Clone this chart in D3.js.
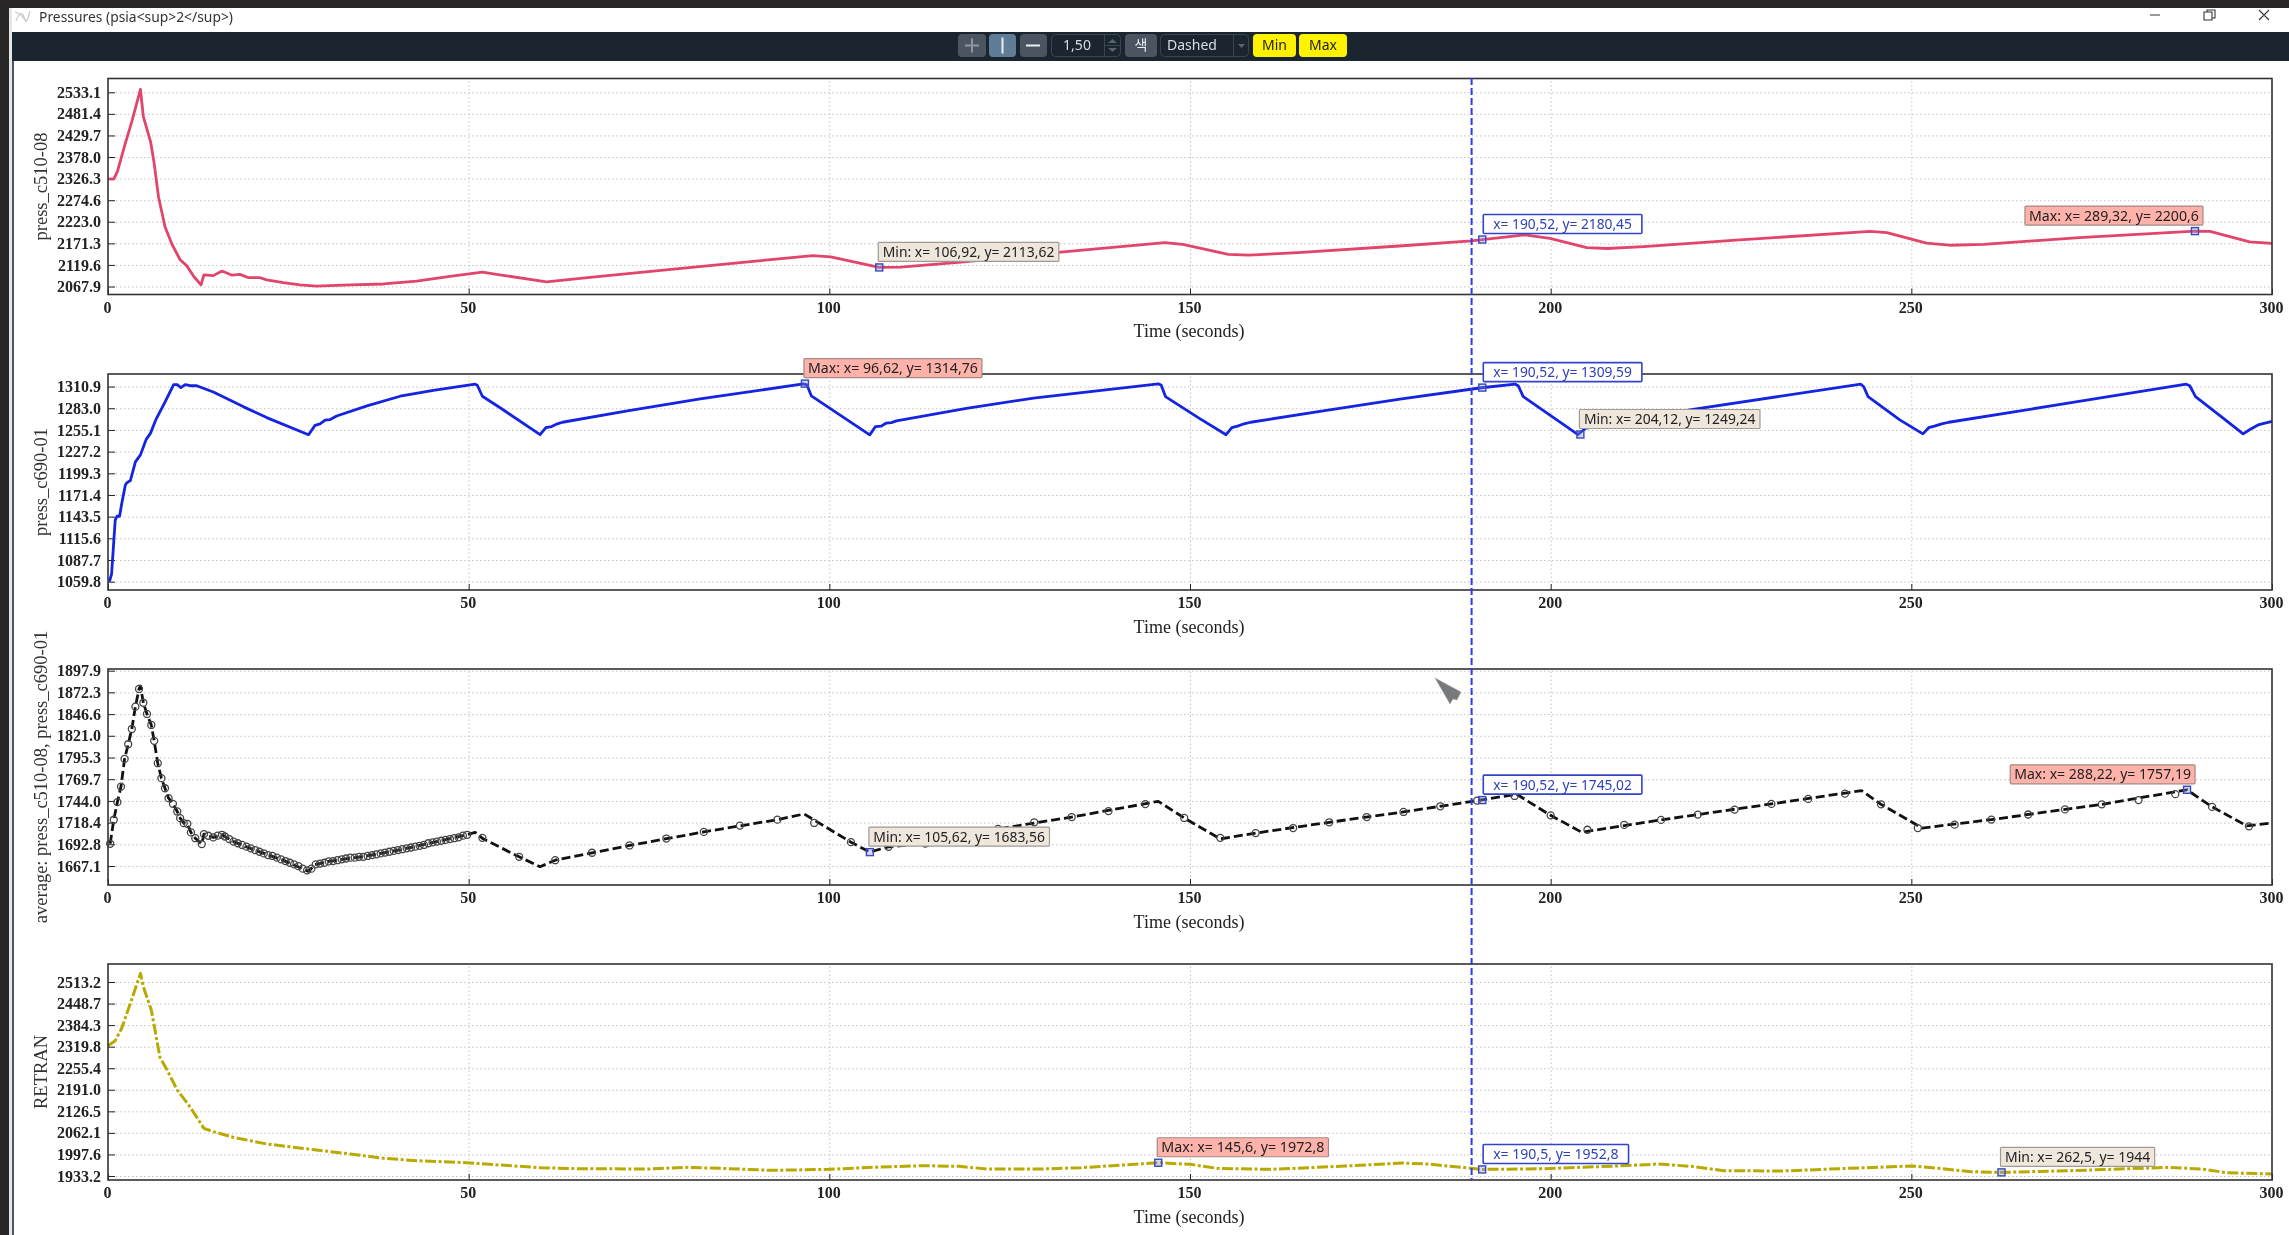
<!DOCTYPE html>
<html>
<head>
<meta charset="utf-8">
<script src="https://cdn.jsdelivr.net/npm/d3@7"></script>
<style>
  html, body { margin: 0; padding: 0; background: #fff; overflow: hidden; }
  svg { filter: blur(0.4px); }
  .tick text { font-family: "Liberation Serif", serif; font-weight: bold; font-size: 16px; fill: #222; }
  .ui { font-family: "Noto Sans", sans-serif; }
</style>
</head>
<body>
<div id="chart_div"></div>
<script>
// x axis is the same on all four plots
const xTicks = [0, 50, 100, 150, 200, 250, 300];
const cursorTime = 189.04;

// press_c510-08
const c510Ticks = [2067.9, 2119.6, 2171.3, 2223.0, 2274.6, 2326.3, 2378.0, 2429.7, 2481.4, 2533.1];
const c510Time = [0, 0.8, 1.3, 2.4, 3.3, 4.5, 4.9, 5.9, 6.4, 7, 7.9, 8.9, 10, 10.9, 11.9, 12.9, 13.3, 14.6, 15.8, 17.2, 18.3, 19.5, 21.1, 22, 24.3, 26.6, 28.9, 33.6, 38.2, 42.8, 47.4, 51.9, 54.3, 60.8, 67.5, 80.9, 97.7, 100.2, 106.9, 109.9, 118.7, 131.3, 146.5, 149, 155.3, 158.2, 165, 179, 189, 196.4, 199.9, 205, 207.8, 212.9, 226.2, 244.3, 246.6, 252.1, 255.3, 260, 273.3, 289.3, 291.4, 296.9, 300];
const c510Values = [2325.6, 2325, 2343, 2411, 2463, 2540, 2475, 2415, 2363, 2283, 2211, 2168, 2132, 2118, 2092, 2072, 2096, 2094, 2105, 2095, 2097, 2089, 2089, 2084, 2077, 2072, 2069, 2072, 2074, 2081, 2092, 2102.5, 2096, 2079, 2091, 2114, 2142, 2139, 2113.6, 2114.5, 2127, 2149, 2173, 2169, 2145, 2143, 2149, 2165, 2177, 2191.7, 2183, 2161, 2159, 2163.6, 2179.7, 2199.8, 2197, 2171.6, 2166.8, 2169, 2185, 2200.6, 2200, 2175, 2171];
const c510Notes = [
  {kind: "min", t: 106.92, v: 2113.62, label: "Min: x= 106,92, y= 2113,62"},
  {kind: "cur", t: 190.52, v: 2180.45, label: "x= 190,52, y= 2180,45"},
  {kind: "max", t: 289.32, v: 2200.6, label: "Max: x= 289,32, y= 2200,6"}
];

// press_c690-01
const c690Ticks = [1059.8, 1087.7, 1115.6, 1143.5, 1171.4, 1199.3, 1227.2, 1255.1, 1283.0, 1310.9];
const c690Time = [0.2, 0.5, 1, 1.25, 1.6, 1.9, 2.4, 2.6, 3.1, 3.8, 4.5, 5.3, 5.9, 6.6, 7.9, 9.1, 9.6, 10.1, 10.7, 11.4, 12.3, 14.6, 18.8, 22, 27.8, 28.7, 29.4, 30.1, 30.8, 31.7, 35.9, 40.5, 45.1, 50.9, 51.2, 51.9, 54.3, 59.9, 60.7, 61.5, 62.3, 63, 72, 82.1, 96.4, 96.9, 97.5, 105.6, 106.4, 107.2, 107.9, 108.6, 109.3, 119, 128.3, 145.6, 146, 146.6, 151.3, 155, 155.8, 156.6, 157.5, 158.4, 168, 179.1, 190.4, 195.1, 195.5, 196.2, 203.8, 204.8, 217.9, 243, 243.4, 244, 248.4, 251.6, 252.4, 253.2, 254.2, 255.2, 270, 288.1, 288.6, 289.4, 293, 296, 297, 298.2, 300];
const c690Values = [1059.8, 1070, 1139, 1144, 1144, 1160, 1184, 1187, 1190, 1214, 1223, 1243, 1251, 1267.6, 1291, 1313.5, 1313.5, 1309.6, 1313.5, 1312, 1312, 1304, 1284.8, 1271, 1249, 1261, 1263, 1267.6, 1268.5, 1273, 1286, 1298.5, 1306, 1314, 1312.6, 1298.5, 1284, 1249, 1258, 1259.5, 1263, 1265, 1279.5, 1295, 1314.3, 1313, 1299, 1248.8, 1259.5, 1260, 1264, 1264.6, 1266.8, 1283, 1296, 1314.3, 1313, 1298, 1270, 1249, 1258, 1260, 1263, 1265, 1279, 1294.8, 1309.4, 1314, 1312, 1298, 1249.2, 1257, 1279, 1314, 1310.7, 1298, 1268, 1250, 1258, 1260, 1263, 1265, 1287, 1314, 1312, 1298, 1272, 1250, 1256, 1262, 1266];
const c690Notes = [
  {kind: "max", t: 96.62, v: 1314.76, label: "Max: x= 96,62, y= 1314,76"},
  {kind: "cur", t: 190.52, v: 1309.59, label: "x= 190,52, y= 1309,59"},
  {kind: "min", t: 204.12, v: 1249.24, label: "Min: x= 204,12, y= 1249,24"}
];

// average of the two, the line has its own open circles
const avgTicks = [1667.1, 1692.8, 1718.4, 1744.0, 1769.7, 1795.3, 1821.0, 1846.6, 1872.3, 1897.9];
const avgTime = [0.3, 0.8, 1.3, 1.8, 2.3, 2.8, 3.3, 3.8, 4.3, 4.5, 4.9, 5.4, 6, 6.4, 6.9, 7.4, 7.9, 8.4, 9, 9.6, 10, 10.5, 11, 11.5, 12.1, 13, 13.3, 13.9, 14.6, 15.8, 17.4, 20.2, 24.3, 27.8, 28.7, 30.6, 35.9, 40.5, 45.1, 49.7, 50.9, 52, 57, 59.9, 62, 72.3, 82.6, 92.8, 96.5, 103, 105.6, 108.2, 113.3, 123.4, 133.6, 145.6, 149.2, 154.2, 159.1, 169.3, 179.6, 189.8, 195.3, 200, 204.3, 215.3, 230.6, 243.1, 245.8, 251.5, 261.1, 276.4, 288.2, 291.7, 296.5, 300];
const avgValues = [1693.4, 1721.8, 1742.6, 1761, 1793.7, 1811, 1829, 1855.4, 1876.3, 1879.8, 1860, 1846.8, 1833.8, 1815, 1788.6, 1770.9, 1759, 1747.3, 1740.6, 1731.6, 1723.7, 1717.8, 1717, 1706.8, 1700, 1693, 1704.8, 1702.9, 1700.9, 1704, 1696, 1686.4, 1673.8, 1660.8, 1668.7, 1672.6, 1679, 1686.4, 1695, 1704, 1706.8, 1699.3, 1678, 1666.3, 1674, 1691.4, 1707.4, 1721.9, 1728.6, 1695.3, 1683.6, 1689.8, 1693.7, 1711, 1725, 1743.5, 1723.9, 1699.2, 1706, 1718.8, 1731, 1744.4, 1751.9, 1727, 1707, 1721.6, 1740.5, 1756.2, 1740, 1712, 1722, 1740, 1757.2, 1737, 1714.6, 1718];
const avgMarkTime = [0.3, 0.8, 1.3, 1.8, 2.3, 2.8, 3.3, 3.8, 4.3, 4.9, 5.4, 6, 6.4, 6.9, 7.4, 7.9, 8.4, 9, 9.6, 10, 10.5, 11, 11.5, 12.1, 13, 13.3, 13.9, 14.6, 15.2, 15.8, 16.2, 16.8, 17.4, 18, 18.6, 19.2, 19.8, 20.4, 21, 21.6, 22.2, 22.8, 23.4, 24, 24.6, 25.2, 25.8, 26.4, 27, 27.6, 28.2, 28.8, 29.4, 30, 30.6, 31.2, 31.8, 32.4, 33, 33.6, 34.2, 34.8, 35.4, 36, 36.6, 37.2, 37.8, 38.4, 39, 39.6, 40.2, 40.8, 41.4, 42, 42.6, 43.2, 43.8, 44.4, 45, 45.6, 46.2, 46.8, 47.4, 48, 48.6, 49.2, 49.8, 51.9, 57, 62, 67.1, 72.3, 77.4, 82.6, 87.6, 92.8, 97.9, 103, 108.2, 113.3, 118.3, 123.4, 128.4, 133.6, 138.7, 143.8, 149.2, 154.2, 159.1, 164.3, 169.3, 174.5, 179.6, 184.7, 189.8, 195, 200, 205.1, 210.2, 215.3, 220.4, 225.5, 230.6, 235.7, 240.8, 245.8, 250.9, 256, 261.1, 266.2, 271.3, 276.4, 281.5, 286.6, 291.7, 296.8];
const avgMarkValues = [1693.4, 1721.8, 1742.6, 1761, 1793.7, 1811, 1829, 1855.4, 1876.3, 1860, 1846.8, 1833.8, 1815, 1788.6, 1770.9, 1759, 1747.3, 1740.6, 1731.6, 1723.7, 1717.8, 1717, 1706.8, 1700, 1693, 1704.8, 1702.9, 1700.9, 1703, 1704, 1702, 1699, 1696, 1694, 1692, 1690, 1688, 1686, 1684, 1682, 1680, 1679, 1677, 1675, 1673, 1671, 1669, 1667, 1664, 1662, 1664, 1669, 1670, 1671, 1672.6, 1673, 1674, 1675, 1676, 1677, 1677, 1678, 1678, 1679, 1680, 1681, 1682, 1683, 1684, 1685, 1686, 1687, 1688, 1689, 1690, 1691, 1692, 1694, 1695, 1696, 1697, 1698, 1699, 1700, 1701, 1703, 1704, 1700.4, 1678, 1674, 1682.8, 1691.4, 1699.6, 1707.4, 1714.9, 1721.9, 1718, 1695.3, 1689.8, 1693.7, 1702, 1711, 1718.8, 1725, 1732, 1740.3, 1723.9, 1700.4, 1706, 1712, 1718.8, 1725, 1731, 1737.7, 1744.4, 1749.9, 1727, 1710, 1715.7, 1721.6, 1727.9, 1733.8, 1740.5, 1746.4, 1752.6, 1740, 1712, 1716, 1722, 1728, 1734, 1740, 1745, 1752, 1737, 1714];
const avgNotes = [
  {kind: "min", t: 105.62, v: 1683.56, label: "Min: x= 105,62, y= 1683,56"},
  {kind: "cur", t: 190.52, v: 1745.02, label: "x= 190,52, y= 1745,02"},
  {kind: "max", t: 288.22, v: 1757.19, label: "Max: x= 288,22, y= 1757,19"}
];

// RETRAN
const retranTicks = [1933.2, 1997.6, 2062.1, 2126.5, 2191.0, 2255.4, 2319.8, 2384.3, 2448.7, 2513.2];
const retranTime = [0, 1, 1.9, 3.1, 4.5, 4.9, 6, 6.6, 7.2, 8.2, 9.6, 11.2, 13.3, 14.6, 17.4, 22, 28.9, 33.6, 38.2, 42.8, 49.7, 54.3, 60, 65, 75, 80, 85, 92, 100, 107, 113, 118, 122, 129.2, 134.9, 145.6, 150, 153.8, 161.2, 171.5, 179.5, 182.9, 190.5, 198.9, 209.2, 214.9, 219.5, 224, 232, 241.2, 250.1, 253.8, 258.3, 262.5, 272, 285.8, 290.3, 293.7, 300];
const retranValues = [2322.9, 2337.8, 2374.7, 2449.4, 2539, 2499, 2429.5, 2359.7, 2288, 2250, 2190, 2145, 2075.7, 2065.7, 2048.8, 2028.9, 2010.9, 1999, 1986, 1979, 1973, 1966, 1958, 1955, 1954, 1959, 1956, 1950, 1953, 1960, 1964, 1962, 1954, 1954, 1958, 1972.8, 1968, 1956, 1953, 1963, 1971.8, 1969, 1952.8, 1955, 1963, 1969, 1962, 1949, 1948, 1956, 1963, 1956, 1946, 1944, 1949, 1959, 1954, 1943, 1939];
const retranNotes = [
  {kind: "max", t: 145.6, v: 1972.8, label: "Max: x= 145,6, y= 1972,8"},
  {kind: "cur", t: 190.5, v: 1952.8, label: "x= 190,5, y= 1952,8"},
  {kind: "min", t: 262.5, v: 1944, label: "Min: x= 262,5, y= 1944"}
];

const svg = d3.select("#chart_div").append("svg")
  .attr("width", 2289)
  .attr("height", 1235)
  .style("display", "block");

const plot_left = 108, plot_right = 2272;
const x = d3.scaleLinear().domain([0, 300]).range([plot_left, plot_right]);

// window frame and toolbar
svg.append("rect").attr("width", 2289).attr("height", 8).attr("fill", "#272525");
svg.append("rect").attr("y", 0).attr("width", 9).attr("height", 1235).attr("fill", "#272525");
svg.append("rect").attr("x", 9).attr("y", 8).attr("width", 3).attr("height", 1227).attr("fill", "#e4e6e8");
svg.append("rect").attr("x", 12).attr("y", 61).attr("width", 2).attr("height", 1174).attr("fill", "#4d5861");
svg.append("rect").attr("x", 12).attr("y", 32).attr("width", 2277).attr("height", 29).attr("fill", "#1b2530");

svg.append("text").attr("class", "ui")
  .attr("x", 39).attr("y", 22)
  .attr("font-size", 14).attr("fill", "#333")
  .attr("textLength", 194).attr("lengthAdjust", "spacingAndGlyphs")
  .text("Pressures (psia<sup>2</sup>)");
svg.append("path").attr("d", "M16 21c3-8 6-10 8-4s3 6 6-6M15 12c4 1 8 4 11 10")
  .attr("fill", "none").attr("stroke", "#c8c8c8").attr("stroke-width", 1.2);

// minimize, restore, close
svg.append("path").attr("d", "M2150 15h10M2204 12h8v8h-8zM2207 12v-2h8v8h-3M2259 10l10 10M2269 10l-10 10")
  .attr("fill", "none").attr("stroke", "#333").attr("stroke-width", 1.1);

function button(bx, bw, fill) {
  svg.append("rect").attr("x", bx).attr("y", 34).attr("width", bw).attr("height", 23)
    .attr("rx", 4).attr("fill", fill);
}
function buttonText(tx, label, fill, anchor) {
  svg.append("text").attr("class", "ui")
    .attr("x", tx).attr("y", 50)
    .attr("text-anchor", anchor || "middle")
    .attr("font-size", 14).attr("fill", fill)
    .style("font-family", '"Noto Sans", "Noto Sans CJK KR", sans-serif')
    .text(label);
}
button(958, 28, "#4a5561");
button(989, 27, "#5f7d97");
button(1020, 27, "#4a5561");
svg.append("path").attr("d", "M965 45.5h14M972 38.5v14").attr("stroke", "#8d96a0").attr("stroke-width", 2);
svg.append("path").attr("d", "M1002.5 37.5v16").attr("stroke", "#e8eef3").attr("stroke-width", 2);
svg.append("path").attr("d", "M1026 45.5h14").attr("stroke", "#e8eef3").attr("stroke-width", 2);

svg.append("rect").attr("x", 1051.5).attr("y", 34.5).attr("width", 69).attr("height", 22).attr("rx", 4)
  .attr("fill", "none").attr("stroke", "#3a4552");
svg.append("path").attr("d", "M1104.5 34.5v22M1104.5 45.5h16").attr("stroke", "#3a4552");
svg.append("path").attr("d", "M1108 43l4.500-4 4.500 4zM1108 48l4.500 4 4.500-4z").attr("fill", "#59636e");
buttonText(1077, "1,50", "#d8dde2");

button(1125, 32, "#4a5561");
buttonText(1141, "색", "#e8eef3");

svg.append("rect").attr("x", 1160.5).attr("y", 34.5).attr("width", 88).attr("height", 22).attr("rx", 4)
  .attr("fill", "none").attr("stroke", "#3a4552");
svg.append("path").attr("d", "M1233.500 34.500v22").attr("stroke", "#3a4552");
svg.append("path").attr("d", "M1238 44h7l-3.500 4z").attr("fill", "#59636e");
buttonText(1167, "Dashed", "#d8dde2", "start");

button(1253, 43, "#fff200");
button(1299, 48, "#fff200");
buttonText(1274.5, "Min", "#222");
buttonText(1323, "Max", "#222");

// one plot, same layout for all of them
function createPlot(cfg) {
  const y = d3.scaleLinear()
    .domain(cfg.domain)
    .range([cfg.top + 216, cfg.top]);
  const bottom = cfg.top + 216;
  const g = svg.append("g");

  // dotted grid
  g.append("g")
    .attr("transform", `translate(0, ${bottom})`)
    .call(d3.axisBottom(x).tickValues(xTicks.slice(1, -1)).tickSize(-216).tickFormat(""))
    .call(s => s.select(".domain").remove())
    .call(s => s.selectAll("line").attr("stroke", "#c4c4c4").attr("stroke-dasharray", "1.500,2.500"));
  g.append("g")
    .attr("transform", `translate(${plot_left}, 0)`)
    .call(d3.axisLeft(y).tickValues(cfg.ticks).tickSize(-(plot_right - plot_left)).tickFormat(""))
    .call(s => s.select(".domain").remove())
    .call(s => s.selectAll("line").attr("stroke", "#c4c4c4").attr("stroke-dasharray", "1.500,2.500"));

  // axes with inward ticks
  g.append("g")
    .attr("transform", `translate(0, ${bottom})`)
    .call(d3.axisBottom(x).tickValues(xTicks).tickSize(-6).tickPadding(7).tickFormat(d3.format("d")))
    .call(s => s.select(".domain").remove())
    .call(s => s.selectAll("line").attr("stroke", "#222"))
    .call(s => s.selectAll("text").attr("dx", -1));
  g.append("g")
    .attr("transform", `translate(${plot_left}, 0)`)
    .call(d3.axisLeft(y).tickValues(cfg.ticks).tickSize(-7).tickPadding(7).tickFormat(d3.format(".1f")))
    .call(s => s.select(".domain").remove())
    .call(s => s.selectAll("line").attr("stroke", "#222"));

  const line = d3.line().x((d, i) => x(cfg.time[i])).y(d => y(d));
  g.append("path")
    .datum(cfg.values)
    .attr("fill", "none")
    .attr("stroke", cfg.color)
    .attr("stroke-width", cfg.width)
    .attr("stroke-linejoin", "round")
    .attr("stroke-dasharray", cfg.dash || null)
    .attr("d", line);

  if (cfg.markTime) {
    g.append("g").selectAll("circle")
      .data(cfg.markValues)
      .join("circle")
      .attr("cx", (d, i) => x(cfg.markTime[i]))
      .attr("cy", d => y(d))
      .attr("r", 3.5)
      .attr("fill", "none")
      .attr("stroke", "#444")
      .attr("stroke-width", 1.3);
  }

  g.append("rect")
    .attr("x", plot_left).attr("y", cfg.top)
    .attr("width", plot_right - plot_left).attr("height", 216)
    .attr("fill", "none").attr("stroke", "#333").attr("stroke-width", 1.6);

  g.append("text")
    .attr("x", (plot_left + plot_right) / 2 - 1)
    .attr("y", bottom + 42.5)
    .attr("text-anchor", "middle")
    .style("font-family", '"Liberation Serif", serif')
    .style("font-size", "18px")
    .attr("fill", "#222")
    .text("Time (seconds)");

  g.append("text")
    .attr("transform", `translate(47, ${bottom - 108}) rotate(-90)`)
    .attr("text-anchor", "middle")
    .style("font-family", '"Liberation Serif", serif')
    .style("font-size", "18.5px")
    .attr("fill", "#333")
    .text(cfg.name);

  return {g, y};
}

const noteStyle = {
  min: {fill: "#efe6dc", stroke: "#a09a94", text: "#222", pad: 4.5, perChar: 6.6},
  max: {fill: "#ffb2aa", stroke: "#a08a88", text: "#222", pad: 4, perChar: 6.8},
  cur: {fill: "#fff", stroke: "#3344cc", text: "#2f3fb8", pad: 10, perChar: 6.6}
};

// the little square on the curve and its text box
function addNotes(plot, notes) {
  const nodes = plot.g.append("g").selectAll("g").data(notes).join("g");
  nodes.each(function (d) {
    const st = noteStyle[d.kind];
    const px = x(d.t), py = plot.y(d.v);
    const textW = d.label.length * st.perChar;
    const boxW = textW + st.pad * 2;
    let boxX = d.kind === "cur" ? px + 1 : px - 1;
    if (boxX + boxW > plot_right) boxX = px + 8 - boxW;
    const n = d3.select(this);
    n.append("rect")
      .attr("x", px - 3.5).attr("y", py - 3.5)
      .attr("width", 7).attr("height", 7)
      .attr("fill", "rgba(130,145,230,0.35)")
      .attr("stroke", "#3a48b8").attr("stroke-width", 1.4);
    n.append("rect")
      .attr("x", boxX).attr("y", py - 25)
      .attr("width", boxW).attr("height", 19)
      .attr("rx", 1)
      .attr("fill", st.fill).attr("stroke", st.stroke)
      .attr("stroke-width", d.kind === "cur" ? 1.6 : 1.2);
    n.append("text")
      .attr("class", "ui")
      .attr("x", boxX + st.pad).attr("y", py - 10.5)
      .attr("font-size", 14).attr("fill", st.text)
      .attr("textLength", textW).attr("lengthAdjust", "spacingAndGlyphs")
      .text(d.label);
  });
}

const plots = [
  {top: 78.5, domain: [2048.8, 2566.1], ticks: c510Ticks, time: c510Time, values: c510Values,
   name: "press_c510-08", color: "#e2456b", width: 2.8, notes: c510Notes},
  {top: 374, domain: [1049.1, 1327.1], ticks: c690Ticks, time: c690Time, values: c690Values,
   name: "press_c690-01", color: "#1424e0", width: 2.8, notes: c690Notes},
  {top: 669, domain: [1644.7, 1899.9], ticks: avgTicks, time: avgTime, values: avgValues,
   markTime: avgMarkTime, markValues: avgMarkValues,
   name: "average: press_c510-08, press_c690-01", color: "#111", width: 2.8, dash: "9,4", notes: avgNotes},
  {top: 964, domain: [1921.2, 2567], ticks: retranTicks, time: retranTime, values: retranValues,
   name: "RETRAN", color: "#b8aa00", width: 3, dash: "11,2.500,3,2.500", notes: retranNotes}
];

const drawn = plots.map(createPlot);

// dashed cursor line runs through every plot
svg.append("line")
  .attr("x1", x(cursorTime)).attr("x2", x(cursorTime))
  .attr("y1", 78).attr("y2", 1180)
  .attr("stroke", "#2a3cf0").attr("stroke-width", 2)
  .attr("stroke-dasharray", "7,3");

drawn.forEach((p, i) => addNotes(p, plots[i].notes));

// mouse pointer left in the screenshot
svg.append("path")
  .attr("d", "M1435 678L1461 692L1457 700L1453 699L1450 704Z")
  .attr("fill", "#77797a").attr("stroke", "#aaa").attr("stroke-width", 0.6);
</script>
</body>
</html>
